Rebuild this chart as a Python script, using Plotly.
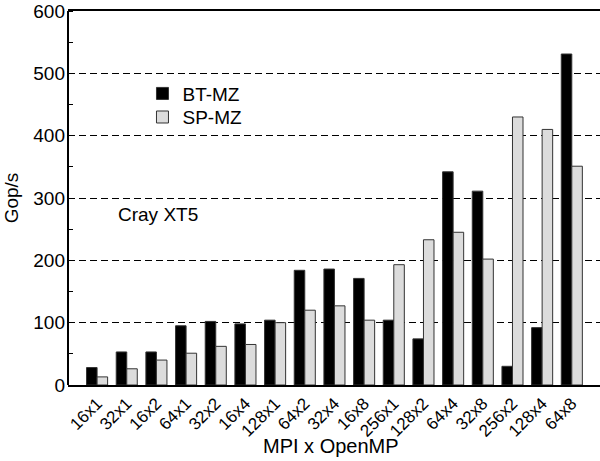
import plotly.graph_objects as go

configs = ["16x1", "32x1", "16x2", "64x1", "32x2", "16x4", "128x1", "64x2", "32x4",
           "16x8", "256x1", "128x2", "64x4", "32x8", "256x2", "128x4", "64x8"]
bt_mz = [28, 53, 53, 95, 102, 98, 104, 184, 186, 171, 104, 74, 342, 311, 30, 92, 531]
sp_mz = [13, 26, 40, 51, 62, 65, 100, 120, 127, 104, 193, 233, 245, 202, 430, 410, 351]
y_ticks = [0, 100, 200, 300, 400, 500, 600]

FONT = "Liberation Sans, Arial, Helvetica, sans-serif"
pos = list(range(len(configs)))

fig = go.Figure()
fig.add_trace(go.Bar(
    x=pos, y=bt_mz, name="BT-MZ", legend="legend",
    marker=dict(color="#000000", line=dict(color="#333333", width=1)),
))
fig.add_trace(go.Bar(
    x=pos, y=sp_mz, name="SP-MZ", legend="legend2",
    marker=dict(color="#dcdcdc", line=dict(color="#333333", width=1)),
))

legend_style = dict(xanchor="left", yanchor="top", bgcolor="rgba(0,0,0,0)",
                    font=dict(size=19))

fig.update_layout(
    width=600, height=461,
    margin=dict(l=68, r=0, t=11, b=76),
    paper_bgcolor="white", plot_bgcolor="white",
    barmode="group", bargap=0.29, bargroupgap=0,
    font=dict(family=FONT, color="black", size=19),
    showlegend=True,
    legend=dict(x=0.14, y=0.83, **legend_style),
    legend2=dict(x=0.14, y=0.767, **legend_style),
    xaxis=dict(
        range=[-0.98, 16.95],
        tickmode="array", tickvals=pos, ticktext=configs,
        tickangle=-45, tickfont=dict(size=17),
        ticks="", showgrid=False, zeroline=False,
        showline=True, linecolor="black", linewidth=2, mirror=True,
    ),
    yaxis=dict(
        range=[0, 600],
        tickmode="array", tickvals=y_ticks,
        tickfont=dict(size=19),
        ticks="", ticklabelstandoff=2,
        minor=dict(ticks="inside", ticklen=5, tickcolor="black", tickwidth=1,
                   dtick=50, tick0=50, showgrid=False),
        showgrid=True, gridcolor="black", gridwidth=1, griddash="7px,4px",
        zeroline=False,
        showline=False, mirror="allticks",
        title=dict(text="Gop/s", font=dict(size=19), standoff=9),
    ),
    shapes=[dict(
        type="line", xref="paper", yref="paper", x0=0, x1=0, y0=0, y1=1,
        line=dict(color="black", width=2),
    )],
    annotations=[
        dict(text="Cray XT5", x=0.09, xref="paper", y=273, yref="y",
             xanchor="left", yanchor="middle", showarrow=False, font=dict(size=19)),
        dict(text="MPI x OpenMP", x=0.495, xref="paper", y=-0.163, yref="paper",
             xanchor="center", yanchor="middle", showarrow=False, font=dict(size=20)),
    ],
)

fig.write_html("out.html")
